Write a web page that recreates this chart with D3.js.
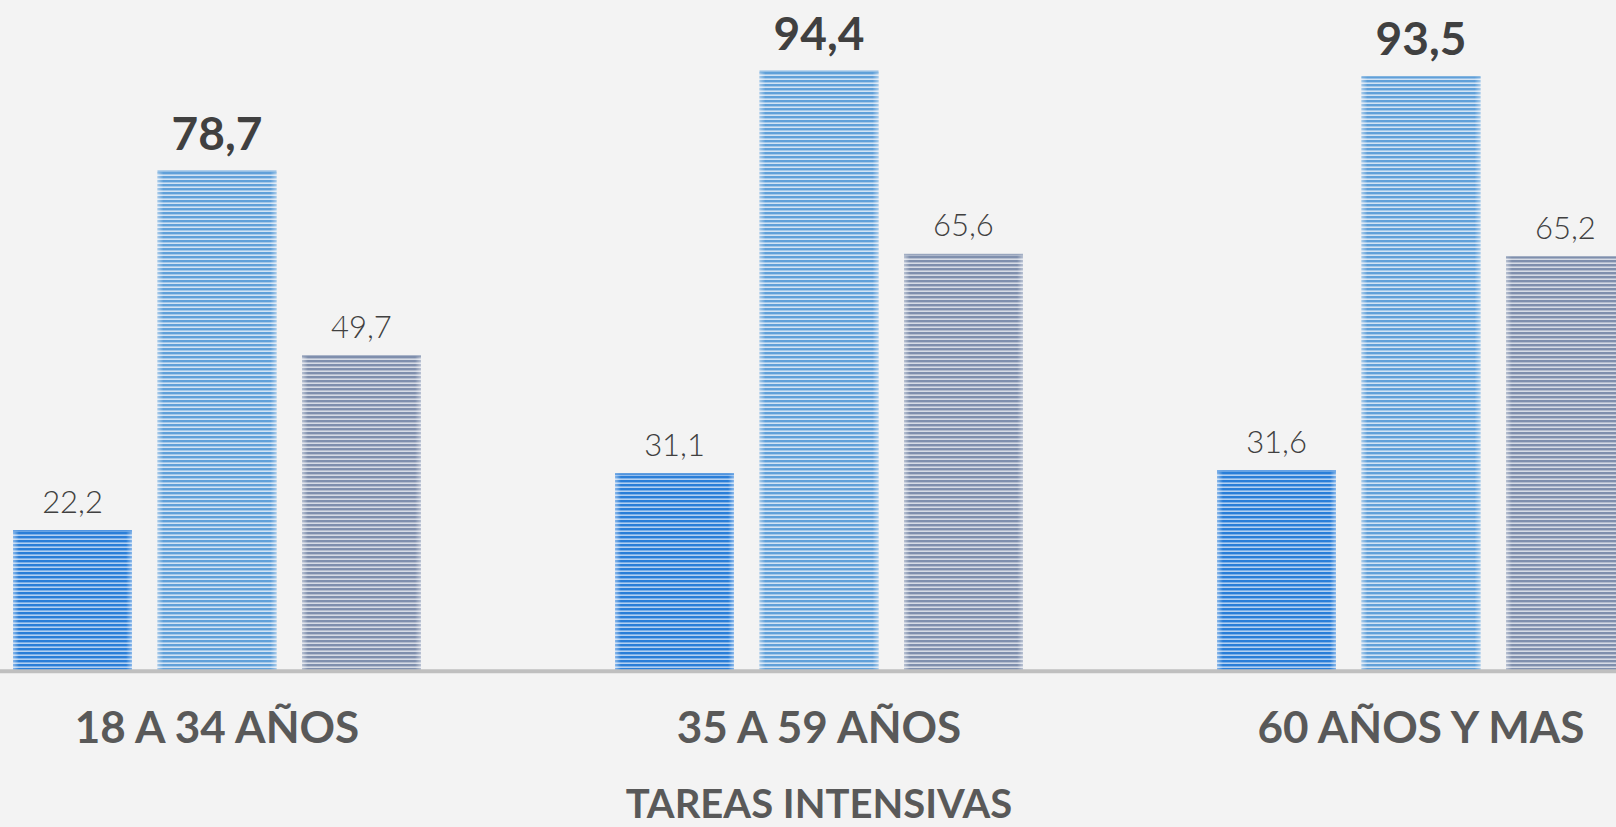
<!DOCTYPE html>
<html><head><meta charset="utf-8">
<script src="https://cdn.jsdelivr.net/npm/d3@7"></script>
<style>
html,body{margin:0;padding:0;background:#f3f3f3;overflow:hidden;}
svg{display:block;}
</style></head>
<body>
<svg id="chart" width="1616" height="827"></svg>
<script>
const categories = ["18 A 34 AÑOS", "35 A 59 AÑOS", "60 AÑOS Y MAS"];
const seriesNames = ["Serie 1", "Serie 2", "Serie 3"];
const serie1 = [22.2, 31.1, 31.6];
const serie2 = [78.7, 94.4, 93.5];
const serie3 = [49.7, 65.6, 65.2];
const axisTitle = "TAREAS INTENSIVAS";

const seriesValues = [serie1, serie2, serie3];
const colors = ["#2a7ed8", "#60a0d9", "#7f8fad"];
const lightColors = ["#b3d0f1", "#d2e3f4", "#d6dbe5"];

const W = 1616, H = 827;
const svg = d3.select("#chart");
svg.append("rect").attr("width", W).attr("height", H).attr("fill", "#f3f3f3");

const defs = svg.append("defs");
colors.forEach((c, i) => {
  const p = defs.append("pattern").attr("id", "pat" + i)
    .attr("patternUnits", "userSpaceOnUse").attr("width", 8).attr("height", 4);
  p.append("rect").attr("width", 8).attr("height", 4).attr("fill", lightColors[i]);
  p.append("rect").attr("y", 0).attr("width", 8).attr("height", 2.4).attr("fill", c);
});
const edge = defs.append("linearGradient").attr("id", "edge").attr("x1", 0).attr("x2", 1).attr("y1", 0).attr("y2", 0);
[[0, 0.45], [0.05, 0], [0.95, 0], [1, 0.45]].forEach(([o, a]) =>
  edge.append("stop").attr("offset", o).attr("stop-color", "#ffffff").attr("stop-opacity", a));

const x0 = d3.scaleBand().domain(categories).range([-84, 1722]).paddingInner(0.3223).paddingOuter(0.16115);
const x1 = d3.scaleBand().domain(seriesNames).range([0, x0.bandwidth()]).paddingInner(0.1765).paddingOuter(0);
const y = d3.scaleLinear().domain([0, 100]).range([671.3, 35.0]);

const fmt = v => d3.format(".1f")(v).replace(".", ",");

const rows = [];
categories.forEach((cat, ci) => {
  seriesNames.forEach((s, si) => rows.push({cat, s, si, v: seriesValues[si][ci]}));
});

const g = svg.append("g");
const bars = g.selectAll("g.bar").data(rows).join("g").attr("class", "bar")
  .attr("transform", d => `translate(${x0(d.cat) + x1(d.s)},0)`);
bars.append("rect")
  .attr("x", 0).attr("width", x1.bandwidth())
  .attr("y", d => y(d.v)).attr("height", d => y(0) - y(d.v))
  .attr("fill", d => `url(#pat${d.si})`);
bars.append("rect")
  .attr("x", 0).attr("width", x1.bandwidth())
  .attr("y", d => y(d.v)).attr("height", d => y(0) - y(d.v))
  .attr("fill", "url(#edge)");
bars.append("rect")
  .attr("x", 0).attr("width", x1.bandwidth())
  .attr("y", d => y(d.v)).attr("height", 2)
  .attr("fill", (d) => colors[d.si]).attr("opacity", 0.55);

// value labels
bars.append("text")
  .attr("x", x1.bandwidth() / 2)
  .attr("y", d => y(d.v) - (d.si === 1 ? 21 : 17.5))
  .attr("text-anchor", "middle")
  .attr("font-family", "Lato, 'DejaVu Sans', sans-serif")
  .attr("font-weight", d => d.si === 1 ? 700 : 300)
  .attr("font-size", d => d.si === 1 ? 46 : 31)
  .attr("fill", "#404040")
  .text(d => fmt(d.v));

// axis line
svg.append("line").attr("x1", 0).attr("x2", W).attr("y1", y(0)).attr("y2", y(0))
  .attr("stroke", "#bfbfbf").attr("stroke-width", 4);

// category labels
const xAxis = d3.axisBottom(x0).tickSize(0).tickPadding(0);
const ax = svg.append("g").attr("transform", `translate(0,${y(0)})`).call(xAxis);
ax.select(".domain").remove();
ax.selectAll(".tick text")
  .attr("y", 72).attr("dy", 0)
  .attr("font-family", "Lato, 'DejaVu Sans', sans-serif")
  .attr("font-weight", 700).attr("font-size", 44).attr("fill", "#595959");

svg.append("text").attr("x", (x0.range()[0] + x0.range()[1]) / 2).attr("y", 818)
  .attr("text-anchor", "middle")
  .attr("font-family", "Lato, 'DejaVu Sans', sans-serif")
  .attr("font-weight", 700).attr("font-size", 40).attr("fill", "#595959")
  .text(axisTitle);
</script>
</body></html>
